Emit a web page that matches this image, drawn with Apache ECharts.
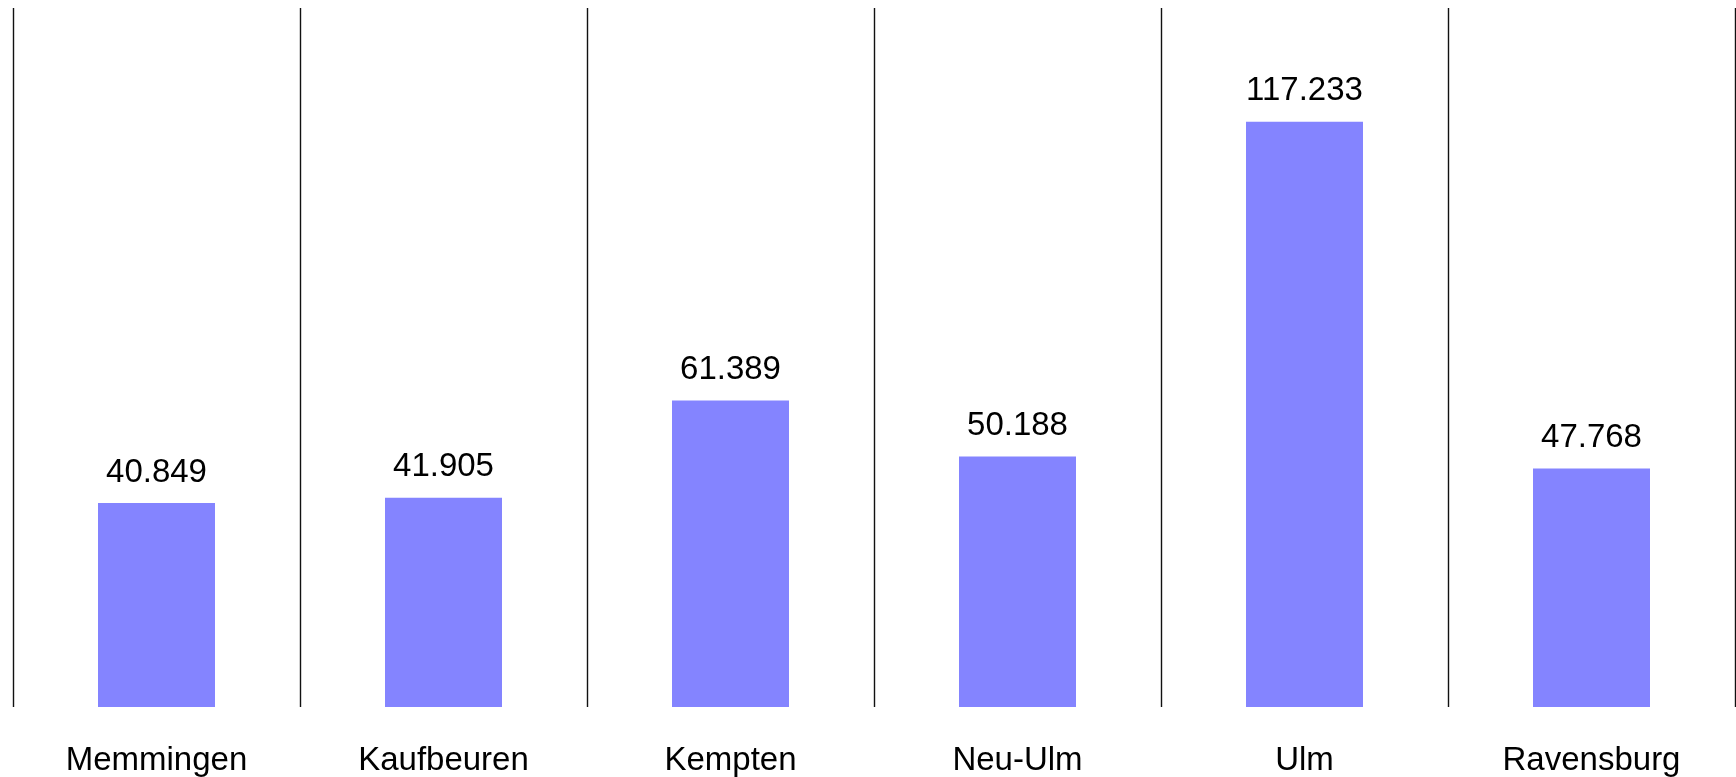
<!DOCTYPE html>
<html>
<head>
<meta charset="utf-8">
<script src="https://cdn.jsdelivr.net/npm/echarts@6/dist/echarts.min.js"></script>
<style>
html,body{margin:0;padding:0;background:#fff;}
#c{width:1736px;height:777px;}
</style>
</head>
<body>
<div id="c"></div>
<script>
var categories = ['Memmingen', 'Kaufbeuren', 'Kempten', 'Neu-Ulm', 'Ulm', 'Ravensburg'];
var values = [40.849, 41.905, 61.389, 50.188, 117.233, 47.768];
var yMax = 140;

var chart = echarts.init(document.getElementById('c'), null, {renderer: 'canvas'});
chart.setOption({
  animation: false,
  backgroundColor: '#ffffff',
  grid: {left: 13, right: 1, top: 8, bottom: 69, containLabel: false},
  xAxis: {
    type: 'category',
    data: categories,
    boundaryGap: true,
    axisLine: {show: false},
    axisTick: {show: false},
    axisLabel: {
      show: true,
      margin: 37,
      fontFamily: 'Liberation Sans, Arial, sans-serif',
      fontSize: 33,
      color: '#000'
    },
    splitLine: {show: true, lineStyle: {color: '#111', width: 1.4}}
  },
  yAxis: {
    type: 'value',
    min: 0,
    max: yMax,
    show: false,
    splitLine: {show: false}
  },
  series: [{
    type: 'bar',
    data: values,
    barWidth: 117,
    itemStyle: {color: '#8484ff'},
    label: {
      show: true,
      position: 'top',
      distance: 14,
      fontFamily: 'Liberation Sans, Arial, sans-serif',
      fontSize: 33,
      color: '#000',
      formatter: function (p) { return p.value.toFixed(3); }
    }
  }]
});
</script>
</body>
</html>
